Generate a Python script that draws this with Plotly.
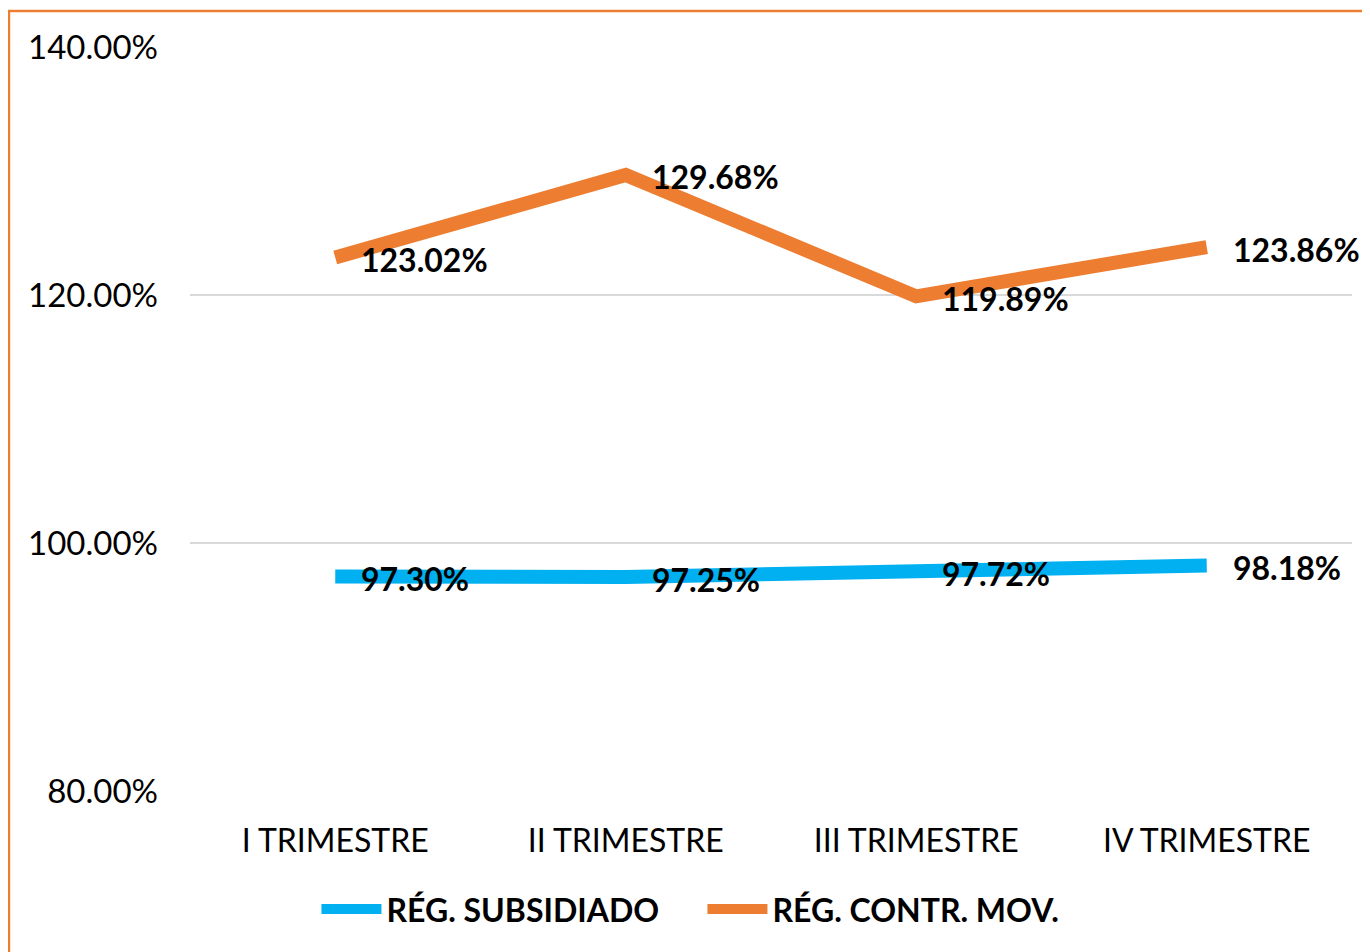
import plotly.graph_objects as go

categories = ["I TRIMESTRE", "II TRIMESTRE", "III TRIMESTRE", "IV TRIMESTRE"]
subsidiado = [97.30, 97.25, 97.72, 98.18]
contributivo = [123.02, 129.68, 119.89, 123.86]
series_names = ["RÉG. SUBSIDIADO", "RÉG. CONTR. MOV."]
colors = ["#00B0F0", "#ED7D31"]
y_ticks = [80, 100, 120, 140]

FONT = "Lato"

fig = go.Figure()
for name, vals, col in zip(series_names, [subsidiado, contributivo], colors):
    fig.add_trace(go.Scatter(
        x=categories, y=vals, name=name, mode="lines",
        line=dict(color=col, width=14),
    ))
    for c, v in zip(categories, vals):
        fig.add_annotation(
            x=c, y=v, text=f"<b>{v:.2f}%</b>", showarrow=False,
            xanchor="left", yanchor="middle", xshift=24, yshift=-2,
            font=dict(family=FONT, size=32, color="#000000"),
        )

fig.update_layout(
    width=1362, height=944,
    margin=dict(l=182, r=18, t=39, b=161),
    paper_bgcolor="white", plot_bgcolor="white",
    showlegend=True,
    legend=dict(
        orientation="h", x=0.441, xanchor="center", y=-0.122, yanchor="top",
        font=dict(family=FONT, size=32, color="#000000", weight="bold"),
        itemwidth=60, itemclick=False, entrywidth=311,
    ),
    xaxis=dict(
        range=[-0.5, 3.5], automargin=False,
        showgrid=False, showline=False, ticks="", ticklabelstandoff=28,
        tickfont=dict(family=FONT, size=32, color="#000000"),
    ),
    yaxis=dict(
        range=[80, 140], tickvals=y_ticks, automargin=False,
        ticktext=[f"{t:.2f}%" for t in y_ticks],
        showgrid=True, gridcolor="#D9D9D9", gridwidth=2,
        zeroline=False, showline=False, ticks="", ticklabelstandoff=31,
        tickfont=dict(family=FONT, size=33, color="#000000"),
    ),
    shapes=[dict(
        type="rect", xref="paper", yref="paper",
        x0=-0.1558, x1=1.2, y0=-0.5, y1=1.0484,
        line=dict(color="#ED7D31", width=2.5), layer="below",
    )],
)

fig.write_html("out.html")
